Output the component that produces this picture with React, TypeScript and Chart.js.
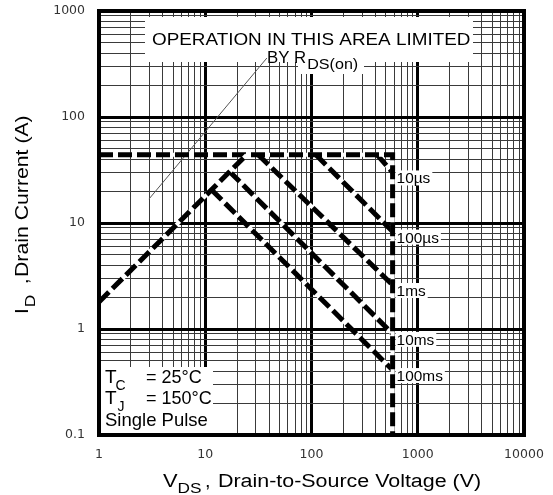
import React, { useEffect, useRef } from 'react';
import { Chart, registerables } from 'chart.js';

Chart.register(...registerables);

// ---- data ----
const xDecadeLabels = ['1', '10', '100', '1000', '10000'];
const yDecadeLabels = ['0.1', '1', '10', '100', '1000'];

const rdsLimitV = [1, 24.5];
const rdsLimitI = [1.8, 44];
const currentLimitV = [1, 580, 580];
const currentLimitI = [44, 44, 0.1];

const pulseLabels = ['10µs', '100µs', '1ms', '10ms', '100ms'];
const pulse10usV = [415, 580];
const pulse10usI = [44, 30];
const pulse100usV = [110, 580];
const pulse100usI = [44, 8.3];
const pulse1msV = [31.5, 580];
const pulse1msI = [44, 2.6];
const pulse10msV = [17, 580];
const pulse10msI = [30.5, 0.9];
const pulse100msV = [11.5, 580];
const pulse100msI = [20.5, 0.41];

const pointerV = [2.95, 38];
const pointerI = [16.8, 360];

const annotationLine1 = 'OPERATION IN THIS AREA LIMITED';
const annotationLine2 = 'BY R';
const annotationSub = 'DS(on)';
const condTc = ['T', 'C', '= 25°C'];
const condTj = ['T', 'J', '= 150°C'];
const condPulse = 'Single Pulse';

const xTitle = ['V', 'DS', ',', 'Drain-to-Source Voltage (V)'];
const yTitle = ['I', 'D', ',', 'Drain Current (A)'];

// ---- helpers ----
const isDecade = (v: number) => {
  if (!v || v <= 0) return false;
  const l = Math.log10(v);
  return Math.abs(l - Math.round(l)) < 1e-6;
};

const decadeGrid = (min: number, max: number) => {
  const out: number[] = [];
  for (let d = min; d < max * 0.999; d *= 10) {
    for (let m = 1; m < 10; m++) out.push(+(m * d).toPrecision(6));
  }
  out.push(max);
  return out;
};

const labelFor = (labels: string[]) => (value: number) => {
  const found = labels.find((l) => Math.abs(parseFloat(l) - value) < 1e-6 * value);
  return found ?? '';
};

const FONT = '"Liberation Sans", Arial, sans-serif';

function drawStretched(
  ctx: CanvasRenderingContext2D,
  text: string,
  x: number,
  y: number,
  size: number,
  sx: number
) {
  ctx.save();
  ctx.font = `${size}px ${FONT}`;
  ctx.translate(x, y);
  ctx.scale(sx, 1);
  ctx.textAlign = 'left';
  ctx.fillText(text, 0, 0);
  const w = ctx.measureText(text).width * sx;
  ctx.restore();
  return w;
}

const toPts = (xs: number[], ys: number[]) => xs.map((x, i) => ({ x, y: ys[i] }));

export default function App() {
  const ref = useRef<HTMLCanvasElement | null>(null);

  useEffect(() => {
    if (!ref.current) return;
    const xGrid = decadeGrid(1, 10000);
    const yGrid = decadeGrid(0.1, 1000);

    const dashed = (xs: number[], ys: number[]) => ({
      data: toPts(xs, ys),
      showLine: true,
      borderColor: '#000',
      borderWidth: 5,
      borderDash: [14, 5],
      borderCapStyle: 'butt' as const,
      pointRadius: 0,
      tension: 0,
      _underlay: true,
    });

    const overlay = {
      id: 'overlay',
      beforeDatasetsDraw(chart: any) {
        const ctx = chart.ctx as CanvasRenderingContext2D;
        ctx.save();
        ctx.fillStyle = '#fff';
        // annotation box
        ctx.fillRect(145, 17, 328, 45);
        ctx.fillRect(298, 60, 66, 14);
        // conditions box
        ctx.fillRect(101, 367, 112, 66);
        ctx.restore();
      },
      beforeDatasetDraw(chart: any, args: any) {
        const ds = chart.data.datasets[args.index];
        if (!ds._underlay) return;
        const pts = args.meta.data;
        const ctx = chart.ctx as CanvasRenderingContext2D;
        ctx.save();
        ctx.beginPath();
        pts.forEach((p: any, i: number) => (i ? ctx.lineTo(p.x, p.y) : ctx.moveTo(p.x, p.y)));
        ctx.strokeStyle = '#fff';
        ctx.lineWidth = 4;
        ctx.stroke();
        ctx.restore();
      },
      afterDatasetsDraw(chart: any) {
        const ctx = chart.ctx as CanvasRenderingContext2D;
        const xs = chart.scales.x;
        const ys = chart.scales.y;
        const a = chart.chartArea;
        ctx.save();
        ctx.fillStyle = '#000';
        ctx.textBaseline = 'alphabetic';

        // annotation
        drawStretched(ctx, annotationLine1, 152, 45, 17, 1.11);
        const wBy = drawStretched(ctx, annotationLine2, 267, 63, 16, 1.05);
        drawStretched(ctx, annotationSub, 267 + wBy + 1, 69, 14, 1.15);

        // conditions
        const c1 = drawStretched(ctx, condTc[0], 105, 383, 19, 1);
        drawStretched(ctx, condTc[1], 105 + c1 - 1, 390, 14, 1);
        drawStretched(ctx, condTc[2], 146, 383, 18, 1);
        const c2 = drawStretched(ctx, condTj[0], 105, 404, 19, 1);
        drawStretched(ctx, condTj[1], 105 + c2 + 1, 411, 14, 1);
        drawStretched(ctx, condTj[2], 146, 404, 18, 1);
        drawStretched(ctx, condPulse, 105, 426, 18.5, 1);

        // pulse labels
        const ends = [pulse10usI, pulse100usI, pulse1msI, pulse10msI, pulse100msI].map((arr) => arr[1]);
        const endsV = [pulse10usV, pulse100usV, pulse1msV, pulse10msV, pulse100msV].map((arr) => arr[1]);
        pulseLabels.forEach((lab, i) => {
          const px = xs.getPixelForValue(endsV[i]) + 3;
          const py = ys.getPixelForValue(ends[i]) + 6;
          ctx.font = `14px ${FONT}`;
          const w = ctx.measureText(lab).width * 1.1;
          ctx.fillStyle = '#fff';
          ctx.fillRect(px, py - 8, w + 3, 15);
          ctx.fillStyle = '#000';
          drawStretched(ctx, lab, px + 1, py + 5, 14, 1.1);
        });

        // x title
        let x = 163;
        x += drawStretched(ctx, xTitle[0], x, 487, 19, 1.15);
        drawStretched(ctx, xTitle[1], x, 493, 15, 1.15);
        drawStretched(ctx, xTitle[2], 205, 487, 18, 1.1);
        drawStretched(ctx, xTitle[3], 218, 487, 18, 1.19);

        // y title (rotated)
        ctx.save();
        ctx.translate(28, 314);
        ctx.rotate(-Math.PI / 2);
        let yx = 0;
        yx += drawStretched(ctx, yTitle[0], 0, 0, 19, 1.1);
        drawStretched(ctx, yTitle[1], yx + 1, 7, 15, 1.15);
        drawStretched(ctx, yTitle[2], 30, 0, 18, 1.1);
        drawStretched(ctx, yTitle[3], 37, 0, 18, 1.18);
        ctx.restore();

        // frame
        ctx.strokeStyle = '#000';
        ctx.lineWidth = 4;
        ctx.strokeRect(a.left, a.top, a.right - a.left, a.bottom - a.top);
        ctx.restore();
      },
    };

    const tickFont = { family: '"DejaVu Sans", sans-serif', size: 12.5 };

    const chart = new Chart(ref.current, {
      type: 'scatter',
      data: {
        datasets: [
          dashed(rdsLimitV, rdsLimitI),
          dashed(currentLimitV, currentLimitI),
          dashed(pulse10usV, pulse10usI),
          dashed(pulse100usV, pulse100usI),
          dashed(pulse1msV, pulse1msI),
          dashed(pulse10msV, pulse10msI),
          dashed(pulse100msV, pulse100msI),
          {
            data: toPts(pointerV, pointerI),
            showLine: true,
            borderColor: '#555',
            borderWidth: 1,
            pointRadius: 0,
          } as any,
        ] as any,
      },
      options: {
        animation: false,
        responsive: false,
        devicePixelRatio: 1,
        layout: { padding: { top: 11, right: 29, left: 0, bottom: 0 } },
        plugins: { legend: { display: false }, tooltip: { enabled: false } },
        scales: {
          x: {
            type: 'logarithmic',
            min: 1,
            max: 10000,
            afterBuildTicks: (s: any) => {
              s.ticks = xGrid.map((v) => ({ value: v }));
            },
            afterFit: (s: any) => {
              s.height = 60;
              s.paddingLeft = 0;
              s.paddingRight = 0;
            },
            ticks: {
              autoSkip: false,
              maxRotation: 0,
              minRotation: 0,
              padding: 12,
              color: '#333',
              font: tickFont,
              callback: labelFor(xDecadeLabels) as any,
            },
            grid: {
              drawTicks: false,
              color: (c: any) => (isDecade(c.tick?.value) ? '#000' : '#3a3a3a'),
              lineWidth: (c: any) => (isDecade(c.tick?.value) ? 3 : 1),
            },
            border: { display: false },
          },
          y: {
            type: 'logarithmic',
            min: 0.1,
            max: 1000,
            afterBuildTicks: (s: any) => {
              s.ticks = yGrid.map((v) => ({ value: v }));
            },
            afterFit: (s: any) => {
              s.width = 99;
              s.paddingTop = 0;
              s.paddingBottom = 0;
            },
            ticks: {
              autoSkip: false,
              padding: 14,
              color: '#333',
              font: tickFont,
              callback: labelFor(yDecadeLabels) as any,
            },
            grid: {
              drawTicks: false,
              color: (c: any) => (isDecade(c.tick?.value) ? '#000' : '#3a3a3a'),
              lineWidth: (c: any) => (isDecade(c.tick?.value) ? 3 : 1),
            },
            border: { display: false },
          },
        },
      },
      plugins: [overlay],
    } as any);

    return () => chart.destroy();
  }, []);

  return (
    <div style={{ position: 'absolute', left: 0, top: 0, width: 553, height: 495, background: '#fff' }}>
      <canvas ref={ref} width={553} height={495} style={{ display: 'block' }} />
    </div>
  );
}
